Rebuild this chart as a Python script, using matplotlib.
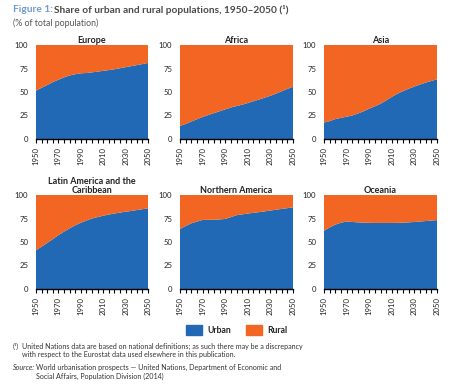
import matplotlib
matplotlib.use("Agg")
import matplotlib.pyplot as plt
import numpy as np
from matplotlib.patches import Rectangle

plt.rcParams['font.family'] = ['Lato', 'DejaVu Sans']

years = list(range(1950, 2051, 5))
regions = ["Europe", "Africa", "Asia",
           "Latin America and the\nCaribbean", "Northern America", "Oceania"]

urban_europe = [51.5, 54.5, 57.4, 60.5, 63.1, 65.5, 67.6, 68.9, 69.9, 70.2, 70.9,
                71.7, 72.5, 73.3, 74.2, 75.3, 76.4, 77.5, 78.6, 79.7, 80.9]
urban_africa = [14.0, 16.0, 18.6, 21.0, 23.5, 25.5, 27.5, 29.5, 31.5, 33.5, 35.0,
                36.5, 38.3, 40.2, 42.0, 44.0, 46.0, 48.3, 50.8, 53.3, 55.6]
urban_asia = [17.5, 19.0, 21.2, 22.5, 23.7, 25.0, 27.1, 29.5, 32.3, 34.8, 37.5,
              41.0, 44.8, 48.2, 51.0, 53.5, 55.8, 58.0, 60.0, 61.8, 63.5]
urban_latam = [41.3, 45.0, 49.0, 53.0, 57.3, 61.0, 64.5, 67.8, 70.5, 72.8, 75.0,
               76.5, 78.0, 79.2, 80.3, 81.3, 82.2, 83.0, 84.0, 84.9, 85.8]
urban_namerica = [63.9, 67.0, 69.9, 71.7, 73.5, 73.6, 73.7, 74.0, 74.5, 76.5, 78.5,
                  79.4, 80.3, 81.0, 81.8, 82.6, 83.5, 84.3, 85.2, 86.0, 86.9]
urban_oceania = [62.0, 65.5, 68.5, 70.5, 71.8, 71.3, 70.9, 70.6, 70.4, 70.3, 70.3,
                 70.3, 70.3, 70.4, 70.6, 70.9, 71.3, 71.8, 72.3, 72.8, 73.3]
urban_all = [urban_europe, urban_africa, urban_asia,
             urban_latam, urban_namerica, urban_oceania]

yticks = [0, 25, 50, 75, 100]
xlabels = [1950, 1970, 1990, 2010, 2030, 2050]

BLUE = "#2168b5"
ORANGE = "#f26522"

W, H = 452, 385
fig = plt.figure(figsize=(W / 100, H / 100), dpi=100)

cols = [(36, 148), (180, 293), (324, 437)]
rows = [(45, 139), (195, 289)]

for i, (name, urban) in enumerate(zip(regions, urban_all)):
    r, c = divmod(i, 3)
    x0, x1 = cols[c]
    y0, y1 = rows[r]
    ax = fig.add_axes([x0 / W, 1 - y1 / H, (x1 - x0) / W, (y1 - y0) / H])
    u = np.array(urban)
    rural = 100 - u
    ax.stackplot(years, u, rural, colors=[BLUE, ORANGE], linewidth=0)
    ax.set_xlim(1950, 2050)
    ax.set_ylim(0, 100)
    for s in ["top", "right", "left"]:
        ax.spines[s].set_visible(False)
    ax.spines["bottom"].set_linewidth(1.0)
    ax.spines["bottom"].set_color("black")
    ax.set_yticks(yticks)
    ax.set_yticklabels([str(v) for v in yticks], fontsize=5.6, color="#222222")
    ax.tick_params(axis="y", length=0, pad=5.5)
    ax.set_xticks(years)
    ax.set_xticklabels([str(y) if y in xlabels else "" for y in years],
                       rotation=90, fontsize=5.6, color="#222222")
    ax.tick_params(axis="x", length=3.2, width=0.8, color="black", pad=2.5)
    ax.set_title(name, fontsize=6.5, fontweight="bold", color="#222222",
                 pad=1.5, linespacing=0.95)

# Title
fig.text(13 / W, 1 - 10 / H, "Figure 1:", fontsize=7.3, fontweight="bold",
         color="#6f9bcc", va="center", ha="left")
fig.text(54.5 / W, 1 - 10 / H, "Share of urban and rural populations, 1950\u20132050 (\u00b9)",
         fontsize=7.3, fontweight="bold", color="#4a4a4a", va="center", ha="left")
fig.text(13 / W, 1 - 23 / H, "(% of total population)", fontsize=6.3,
         color="#555555", va="center", ha="left")

# Legend
for (px, label) in [(186, "Urban"), (246, "Rural")]:
    color = BLUE if label == "Urban" else ORANGE
    fig.patches.append(Rectangle((px / W, 1 - 335 / H), 16 / W, 10 / H,
                                 transform=fig.transFigure, color=color))
    fig.text((px + 21) / W, 1 - 330.5 / H, label, fontsize=6.2, fontweight="bold",
             color="#222222", va="center", ha="left")

# Footnotes
fn = 5.1
fig.text(13 / W, 1 - 346 / H, "(\u00b9)", fontsize=fn, color="#333333",
         va="center", ha="left")
fig.text(22 / W, 1 - 346 / H,
         "United Nations data are based on national definitions; as such there may be a discrepancy",
         fontsize=fn, color="#333333", va="center", ha="left")
fig.text(22 / W, 1 - 354.5 / H,
         "with respect to the Eurostat data used elsewhere in this publication.",
         fontsize=fn, color="#333333", va="center", ha="left")
fig.text(13 / W, 1 - 367 / H, "Source:", fontsize=fn, color="#333333",
         style="italic", va="center", ha="left")
fig.text(36 / W, 1 - 367 / H,
         "World urbanisation prospects \u2014 United Nations, Department of Economic and",
         fontsize=fn, color="#333333", va="center", ha="left")
fig.text(36 / W, 1 - 376 / H, "Social Affairs, Population Division (2014)",
         fontsize=fn, color="#333333", va="center", ha="left")

fig.savefig("out.png", dpi=100)
